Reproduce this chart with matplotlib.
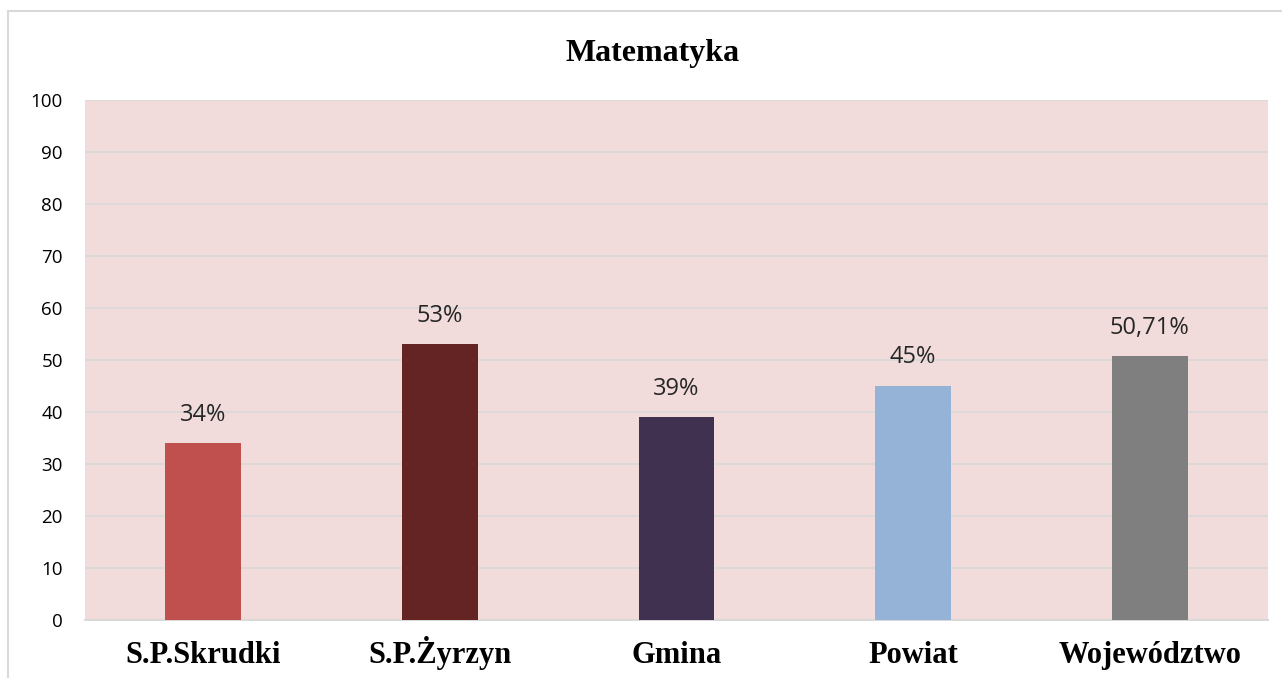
import matplotlib.pyplot as plt
from matplotlib.patches import Rectangle

# dane
categories = ['S.P.Skrudki', 'S.P.Żyrzyn', 'Gmina', 'Powiat', 'Województwo']
values = [34, 53, 39, 45, 50.71]
value_labels = ['34%', '53%', '39%', '45%', '50,71%']
colors = ['#C0504D', '#632423', '#403151', '#95B3D7', '#7F7F7F']

fig = plt.figure(figsize=(12.82, 6.78), dpi=100)
ax = fig.add_axes([85 / 1282, 1 - 620 / 678, 1183 / 1282, 520 / 678])

# ramka wykresu
fig.patches.append(Rectangle((8 / 1282, -0.05), 1.1, 1 - 11 / 678 + 0.05,
                             transform=fig.transFigure, fill=False,
                             edgecolor='#D9D9D9', linewidth=1.5))

ax.set_facecolor('#F2DCDB')
x = range(len(categories))
ax.bar(x, values, width=0.32, color=colors, zorder=3)

for i, (v, lab) in enumerate(zip(values, value_labels)):
    ax.text(i, v + 3.2, lab, ha='center', va='bottom', fontsize=17,
            family='Open Sans', color='#262626')

ax.set_xlim(-0.5, len(categories) - 0.5)
ax.set_ylim(0, 100)
ax.set_yticks(range(0, 101, 10))
ax.yaxis.grid(True, color='#D9D9D9', linewidth=1.2, zorder=0)
ax.set_xticks(list(x))
ax.set_xticklabels(categories, fontsize=22, fontweight='bold',
                   family='Liberation Serif', va='baseline')
ax.tick_params(axis='x', length=0, pad=31)
ax.tick_params(axis='y', length=0, pad=16, labelsize=13.5)
for lab in ax.get_yticklabels():
    lab.set_family('Open Sans')

for side in ['top', 'right', 'left']:
    ax.spines[side].set_visible(False)
ax.spines['bottom'].set_color('#D9D9D9')
ax.spines['bottom'].set_linewidth(1.5)

fig.text(653 / 1282, 1 - 53 / 678, 'Matematyka', ha='center', va='center',
         fontsize=23, fontweight='bold', family='Liberation Serif')

fig.savefig('out.png', dpi=100)
